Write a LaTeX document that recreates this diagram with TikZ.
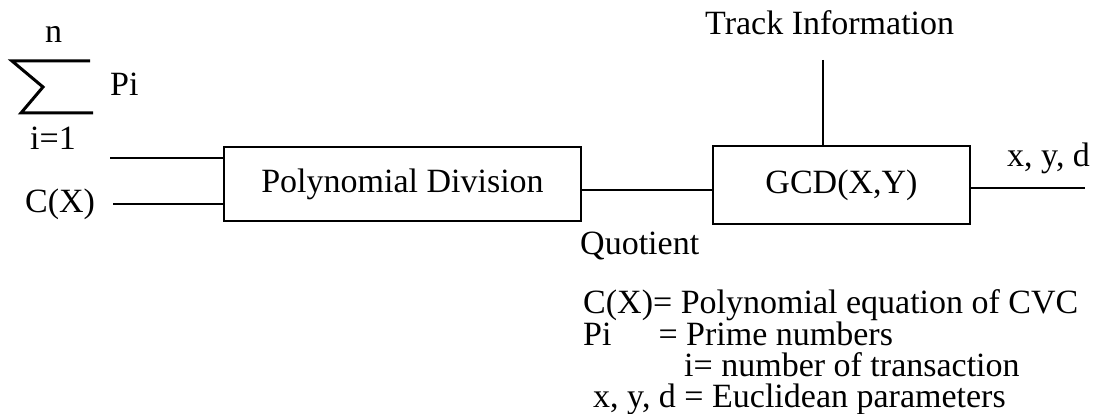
\documentclass[tikz,border=0pt]{standalone}
\usepackage{fontspec}
\setmainfont{Liberation Serif}

\begin{document}
\begin{tikzpicture}[x=1pt, y=-1pt,
    blk/.style={draw, line width=2.5pt, inner sep=0pt, font=\fontsize{34}{34}\selectfont},
    lbl/.style={inner sep=0pt, anchor=base west, font=\fontsize{34}{34}\selectfont},
    wire/.style={line width=2.5pt}]
  \useasboundingbox (0, 0) rectangle (1101, 414);

  % sum sign
  \draw[line width=3pt, line join=miter] (90, 61) -- (12, 61) -- (43, 87) -- (21, 113) -- (93, 113);
  \node[lbl] (n) at (45, 43) {n};
  \node[lbl] (pi) at (110, 96) {Pi};
  \node[lbl] (i1) at (30, 150) {i=1};
  \node[lbl] (cx) at (25, 213) {C(X)};

  % blocks
  \node[blk, minimum width=357pt, minimum height=74pt] (poly) at (402.5, 184) {Polynomial Division};
  \node[blk, minimum width=257pt, minimum height=78pt] (gcd) at (841.5, 185) {GCD(X,Y)};

  % connectors
  \coordinate (in1) at (110, 158);
  \coordinate (in2) at (113, 204);
  \coordinate (q) at ([yshift=-6pt]poly.east);
  \coordinate (track) at (823, 60);
  \coordinate (out) at (1085, 188);
  \draw[wire] (in1) -- (in1 -| poly.west);
  \draw[wire] (in2) -- (in2 -| poly.west);
  \draw[wire] (q) -- (q -| gcd.west);
  \draw[wire] (track) -- (track |- gcd.north);
  \draw[wire] (out -| gcd.east) -- (out);

  \node[lbl] (trk) at (705, 35) {Track Information};
  \node[lbl] (xyd) at (1007, 167) {x, y, d};
  \node[lbl] (quot) at (580, 255) {Quotient};

  % legend
  \node[lbl, align=left, font=\fontsize{34}{30.7}\selectfont] (legend) at (583, 407)
    {C(X)= Polynomial equation of CVC\\
     Pi\hspace{47pt}= Prime numbers\\
     \hspace*{101pt}i= number of transaction\\
     \hspace*{10pt}x, y, d = Euclidean parameters};
\end{tikzpicture}
\end{document}
